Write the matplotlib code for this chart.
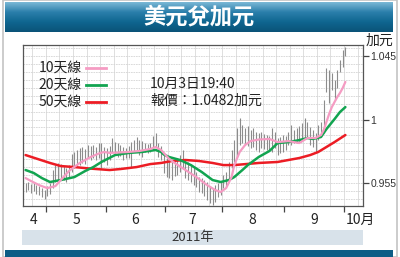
import numpy as np
import matplotlib
matplotlib.use("Agg")
import matplotlib.pyplot as plt
from matplotlib.patches import Rectangle
from matplotlib.colors import LinearSegmentedColormap
import matplotlib.transforms as mtransforms

# ----------------------------------------------------------------------
# Data (USD/CAD daily bars, 20 Apr - 3 Oct 2011, trading-day index)
# ----------------------------------------------------------------------
high = [0.9550, 0.9557, 0.9542, 0.9557, 0.9535, 0.9528, 0.9514, 0.9500, 0.9528, 0.9550,
        0.9642, 0.9677, 0.9692, 0.9684, 0.9670, 0.9656, 0.9677, 0.9755, 0.9770, 0.9784,
        0.9798, 0.9805, 0.9791, 0.9819, 0.9812, 0.9819, 0.9805, 0.9833, 0.9833, 0.9805,
        0.9798, 0.9812, 0.9869, 0.9840, 0.9833, 0.9819, 0.9805, 0.9798, 0.9812, 0.9840,
        0.9854, 0.9876, 0.9854, 0.9847, 0.9833, 0.9826, 0.9833, 0.9883, 0.9904, 0.9833,
        0.9812, 0.9763, 0.9727, 0.9713, 0.9699, 0.9713, 0.9727, 0.9748, 0.9784, 0.9713,
        0.9699, 0.9684, 0.9663, 0.9628, 0.9592, 0.9585, 0.9571, 0.9557, 0.9528, 0.9514,
        0.9535, 0.9550, 0.9557, 0.9606, 0.9628, 0.9699, 0.9784, 0.9854, 0.9940, 1.0010,
        0.9961, 0.9940, 0.9954, 0.9925, 0.9940, 0.9911, 0.9904, 0.9911, 0.9897, 0.9890,
        0.9883, 0.9940, 0.9911, 0.9869, 0.9876, 0.9890, 0.9883, 0.9911, 0.9961, 0.9925,
        0.9940, 0.9954, 0.9975, 1.0010, 0.9982, 0.9947, 0.9925, 0.9904, 0.9961, 0.9982,
        1.0138, 1.0365, 1.0351, 1.0329, 1.0280, 1.0351, 1.0422, 1.0493, 1.0514]
low = [0.9486, 0.9500, 0.9479, 0.9493, 0.9472, 0.9464, 0.9450, 0.9436, 0.9457, 0.9472,
       0.9514, 0.9557, 0.9571, 0.9585, 0.9571, 0.9557, 0.9585, 0.9628, 0.9656, 0.9670,
       0.9677, 0.9692, 0.9684, 0.9727, 0.9713, 0.9727, 0.9713, 0.9727, 0.9656, 0.9699,
       0.9677, 0.9713, 0.9770, 0.9748, 0.9734, 0.9741, 0.9713, 0.9727, 0.9727, 0.9663,
       0.9770, 0.9784, 0.9748, 0.9734, 0.9770, 0.9763, 0.9770, 0.9784, 0.9805, 0.9734,
       0.9713, 0.9621, 0.9592, 0.9585, 0.9571, 0.9599, 0.9606, 0.9628, 0.9656, 0.9585,
       0.9571, 0.9557, 0.9535, 0.9521, 0.9486, 0.9479, 0.9457, 0.9429, 0.9408, 0.9394,
       0.9415, 0.9450, 0.9464, 0.9514, 0.9528, 0.9571, 0.9656, 0.9699, 0.9748, 0.9819,
       0.9833, 0.9819, 0.9812, 0.9798, 0.9805, 0.9784, 0.9770, 0.9798, 0.9791, 0.9784,
       0.9784, 0.9770, 0.9798, 0.9748, 0.9763, 0.9770, 0.9784, 0.9819, 0.9819, 0.9833,
       0.9833, 0.9840, 0.9854, 0.9876, 0.9876, 0.9819, 0.9805, 0.9770, 0.9854, 0.9890,
       0.9904, 1.0195, 1.0117, 1.0209, 1.0138, 1.0223, 1.0337, 1.0372, 1.0450]

# moving averages at selected bars
ma10_idx = [0, 2, 5, 8, 11, 13, 16, 20, 24, 27, 29, 31, 34, 38, 42, 46, 48, 50, 51, 53,
            55, 59, 63, 67, 70, 72, 74, 76, 77, 79, 81, 83, 86, 90, 93, 97, 101, 104, 107,
            109, 110, 111, 112, 113, 114, 115, 116, 117, 118]
ma10 = [0.9585, 0.9564, 0.9535, 0.9514, 0.9528, 0.9571, 0.9635, 0.9692, 0.9734, 0.9759,
        0.9770, 0.9763, 0.9766, 0.9770, 0.9777, 0.9791, 0.9805, 0.9784, 0.9763, 0.9720,
        0.9692, 0.9642, 0.9592, 0.9535, 0.9500, 0.9486, 0.9514, 0.9592, 0.9677, 0.9770,
        0.9819, 0.9847, 0.9858, 0.9862, 0.9840, 0.9847, 0.9833, 0.9869, 0.9869, 0.9890,
        0.9925, 0.9982, 1.0039, 1.0088, 1.0124, 1.0159, 1.0188, 1.0223, 1.0266]

ma20_idx = [0, 3, 6, 9, 11, 13, 18, 22, 25, 28, 33, 38, 43, 48, 50, 51, 53, 57, 61, 65,
            69, 72, 75, 77, 80, 82, 86, 90, 93, 97, 101, 104, 106, 109, 111, 114, 116, 118]
ma20 = [0.9642, 0.9621, 0.9585, 0.9557, 0.9564, 0.9571, 0.9592, 0.9635, 0.9663, 0.9699,
        0.9748, 0.9763, 0.9770, 0.9784, 0.9770, 0.9752, 0.9734, 0.9713, 0.9677, 0.9628,
        0.9571, 0.9557, 0.9571, 0.9592, 0.9642, 0.9677, 0.9734, 0.9777, 0.9833, 0.9840,
        0.9854, 0.9869, 0.9862, 0.9876, 0.9932, 1.0003, 1.0053, 1.0088]

ma50_idx = [0, 4, 9, 13, 18, 24, 31, 35, 41, 46, 50, 54, 59, 64, 69, 73, 77, 86, 93, 101,
            105, 108, 111, 114, 118]
ma50 = [0.9748, 0.9723, 0.9692, 0.9670, 0.9663, 0.9652, 0.9642, 0.9649, 0.9663, 0.9684,
        0.9692, 0.9706, 0.9713, 0.9706, 0.9692, 0.9677, 0.9677, 0.9692, 0.9699, 0.9727,
        0.9748, 0.9770, 0.9805, 0.9840, 0.9890]

month_bounds = [7.5, 29.5, 51.5, 72.5, 95.5, 117.5]
month_label_pos = [3.1, 18.8, 40.6, 61.5, 83.6, 106.4, 123.5]
month_labels = ["4", "5", "6", "7", "8", "9", "10月"]
ytick_vals = [0.955, 1.0, 1.045]
ytick_labels = ["0.955", "1", "1.045"]

TITLE = "美元兌加元"
YEAR = "2011年"
UNIT = "加元"
NOTE1 = "10月3日19:40"
NOTE2 = "報價：1.0482加元"

PINK = "#f59cc3"
GREEN = "#12a450"
RED = "#ec1c24"
BAR = "#8c8c8c"
DARK_BLUE = "#0d5d86"

CJK = ["Noto Sans CJK TC", "DejaVu Sans"]
NARROW = ["Liberation Sans Narrow", "Liberation Sans", "DejaVu Sans"]

W, H = 400, 257


def fx(px):
    return px / W


def fy(py):
    return 1 - py / H


fig = plt.figure(figsize=(4, 2.57), dpi=100)
fig.patch.set_facecolor("white")

# outer light frame
fig.add_artist(Rectangle((fx(2.5), 0), fx(394), 1, transform=fig.transFigure,
                         fill=False, edgecolor="#c4c4c4", lw=1.2))

# title bar with gradient
tax = fig.add_axes([fx(5), fy(32), fx(388), 30 / H])
cmap = LinearSegmentedColormap.from_list("bar", ["#7ab8d6", "#2b7fab", "#0f6690", "#0a5378"])
tax.imshow(np.linspace(0, 1, 64).reshape(-1, 1), aspect="auto", cmap=cmap,
           extent=(0, 1, 0, 1))
tax.set_axis_off()
tax.text(0.5, 0.5, TITLE, color="white", fontsize=16, weight="bold", family=CJK,
         ha="center", va="center", transform=tax.transAxes)

# bottom strip
fig.add_artist(Rectangle((fx(5), 0), fx(388), 7 / H, transform=fig.transFigure,
                         facecolor=DARK_BLUE, edgecolor="none"))

# year bar
fig.add_artist(Rectangle((fx(22), fy(245)), fx(341), 15 / H, transform=fig.transFigure,
                         facecolor="#d8e2ea", edgecolor="none"))
fig.text(fx(192.5), fy(238), YEAR, ha="center", va="center", fontsize=9.5,
         family=CJK, color="#333333")

# ----------------------------------------------------------------------
# main chart
# ----------------------------------------------------------------------
ax = fig.add_axes([fx(23), fy(206), fx(340), 161 / H])
ax.set_xlim(-0.95, 124.5)
ax.set_ylim(0.9387, 1.0528)

# grid
for gx in np.arange(2.5, 124.5, 5):
    ax.axvline(gx, color="#d9d9d9", lw=0.6, zorder=0)
for gy in np.arange(0.955 - 2 * 0.005625, 1.0528, 0.005625):
    ax.axhline(gy, color="#d4d4d4", lw=0.6, ls=(0, (2, 1)), zorder=0)

idx = np.arange(len(high))
ax.vlines(idx, low, high, color=BAR, lw=0.8, zorder=2)

ax.plot(ma50_idx, ma50, color=RED, lw=1.8, zorder=3, solid_capstyle="round")
ax.plot(ma20_idx, ma20, color=GREEN, lw=1.8, zorder=4, solid_capstyle="round")
ax.plot(ma10_idx, ma10, color=PINK, lw=1.6, zorder=5, solid_capstyle="round")

for s in ax.spines.values():
    s.set_color("#555555")
    s.set_linewidth(0.9)

ax.set_xticks(month_bounds)
ax.set_xticklabels([])
ax.tick_params(axis="x", direction="out", length=4, width=0.9, color="#444444")

ax.yaxis.tick_right()
ax.set_yticks(ytick_vals)
ax.set_yticklabels(ytick_labels, family=NARROW, fontsize=7.5, color="#333333")
ax.tick_params(axis="y", direction="out", length=4, width=0.9, color="#444444", pad=1.5)

trans = mtransforms.blended_transform_factory(ax.transData, fig.transFigure)
for pos, lab in zip(month_label_pos, month_labels):
    ax.text(pos, fy(220), lab, transform=trans, ha="center", va="center",
            fontsize=10, family=CJK, color="#222222", clip_on=False)

fig.text(fx(379), fy(41), UNIT, ha="center", va="center", fontsize=10,
         family=CJK, color="#222222")

# legend drawn by hand
def ax_x(px):
    return (px - 23) / 340


def ax_y(py):
    return (206 - py) / 161


for lab, col, py in [("10天線", PINK, 68), ("20天線", GREEN, 85), ("50天線", RED, 102)]:
    ax.text(ax_x(82), ax_y(py), lab, transform=ax.transAxes, ha="right", va="center",
            fontsize=10, family=CJK, color="#222222")
    ax.plot([ax_x(86), ax_x(106)], [ax_y(py), ax_y(py)], transform=ax.transAxes,
            color=col, lw=2)

ax.text(ax_x(150), ax_y(84), NOTE1, transform=ax.transAxes, ha="left", va="center",
        fontsize=10, family=CJK, color="#222222")
ax.text(ax_x(150), ax_y(101), NOTE2, transform=ax.transAxes, ha="left", va="center",
        fontsize=10, family=CJK, color="#222222")

fig.savefig("out.png", dpi=100)
